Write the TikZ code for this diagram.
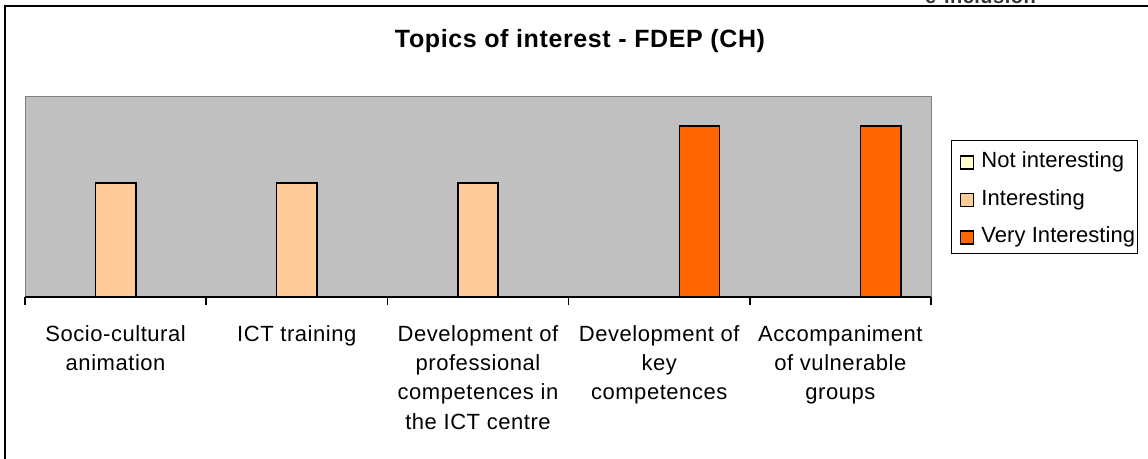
\documentclass[tikz,border=0pt]{standalone}
\usepackage{fontspec}
\setmainfont{Liberation Sans}[LetterSpace=2.5]
\newfontfamily\legfont{Liberation Sans}[LetterSpace=0.3]
\usetikzlibrary{positioning}
\definecolor{plotgrey}{HTML}{C0C0C0}
\definecolor{edgegrey}{HTML}{808080}
\definecolor{notint}{HTML}{FFFFCC}
\definecolor{inter}{HTML}{FFCC99}
\definecolor{veryint}{HTML}{FF6600}
\definecolor{logogrey}{HTML}{333333}
\def\catw{181.2}
\def\barw{20.15}
\tikzstyle{bar} = [draw=black, line width=0.75pt]
\tikzstyle{catlabel} = [align=center, anchor=north, inner sep=0pt, font=\fontsize{11}{14.65}\selectfont]
\tikzstyle{legentry} = [anchor=base west, inner sep=0pt, font=\legfont\fontsize{11}{13}\selectfont]
\tikzstyle{swatch} = [draw=black, line width=0.6pt, minimum size=6.5pt, inner sep=0pt]
\tikzstyle{legbox} = [draw=black, line width=0.5pt]

\begin{document}
\begin{tikzpicture}[x=0.5pt, y=-0.5pt]

  \useasboundingbox (0,0) rectangle (1148,459);
  \clip (0,0) rectangle (1148,459);

  % chart frame, open to the right and bottom
  \draw[line width=1pt] (1160,6) -- (5,6) -- (5,470);
  \node[anchor=base, inner sep=0pt, text=logogrey, font=\bfseries\fontsize{10}{12}\selectfont] (logo) at (980.5,3.5) {e-inclusion};

  \node[anchor=base, inner sep=0pt, font=\bfseries\fontsize{12.5}{15}\selectfont] (title) at (580,48) {Topics of interest - FDEP (CH)};

  % plot area
  \fill[plotgrey] (25,97) rectangle (931,297);
  \draw[edgegrey, line width=0.5pt] (25,297) -- (25,97) -- (931,97) -- (931,297);
  \coordinate (origin) at (25,297);

  \foreach \c/\o/\t/\col in {1/0/183/inter,2/0/183/inter,3/0/183/inter,4/40.3/126/veryint,5/40.3/126/veryint}{
    \pgfmathsetmacro\xm{25+\catw*(\c-0.5)+\o}
    \draw[bar, fill=\col] (\xm-\barw,297) rectangle (\xm+\barw,\t);
  }

  \draw[line width=0.75pt] (origin) -- (931,297);
  \foreach \k in {0,...,5}{
    \draw[line width=0.75pt] (25+\catw*\k,297) -- (25+\catw*\k,305);
  }

  % category labels
  \foreach \c/\lab in {1/{Socio-cultural\\animation},2/{ICT training},3/{Development of\\professional\\competences in\\the ICT centre},4/{Development of\\key\\competences},5/{Accompaniment\\of vulnerable\\groups}}{
    \node[catlabel] (cat\c) at (25+\catw*\c-\catw/2,325) {\lab};
  }

  % legend
  \node[legbox, minimum width=93pt, minimum height=56.5pt] (legend) at (1044,197.5) {};
  \foreach \i/\col/\lab/\y in {1/notint/Not interesting/162.5,2/inter/Interesting/200,3/veryint/Very Interesting/237.5}{
    \node[swatch, fill=\col] (sw\i) at (967,\y) {};
    \node[legentry] (leg\i) at (981,\y+5.5) {\lab};
  }

\end{tikzpicture}
\end{document}
